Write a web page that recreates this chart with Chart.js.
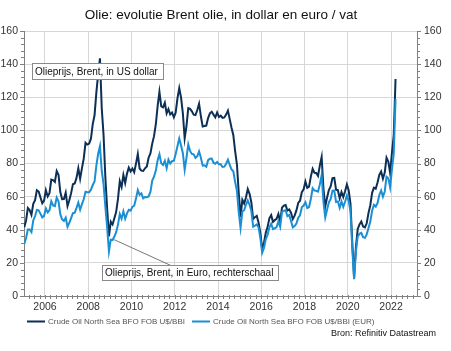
<!DOCTYPE html>
<html>
<head>
<meta charset="utf-8">
<script src="https://cdn.jsdelivr.net/npm/chart.js@4.4.0/dist/chart.umd.min.js"></script>
<style>
html,body{margin:0;padding:0;background:#fff;}
canvas{display:block;}
</style>
</head>
<body>
<canvas id="c" width="451" height="351" style="width:451px;height:351px"></canvas>
<script>
// Monthly values, Jan 2005 - Mar 2022
const startYear = 2005;
const usd = [
41.5,45.5,53.1,51.9,49.0,55.6,57.9,63.9,63.1,59.5,56.0,57.6,
63.9,60.1,62.1,70.3,70.0,68.9,75.5,73.2,62.8,58.4,58.5,62.4,
54.3,57.8,62.1,67.5,67.9,71.3,77.2,70.8,77.1,82.9,92.5,91.4,
92.0,95.0,103.8,109.1,122.8,134.0,143.5,113.2,97.2,71.6,52.5,36.0,
44.9,43.2,47.0,50.8,58.6,69.3,65.8,73.1,68.2,73.9,77.5,75.2,
76.9,74.7,79.9,85.7,77.0,75.7,75.5,77.1,78.2,83.5,86.1,92.0,
96.5,103.7,114.6,123.3,114.5,113.9,116.7,110.2,112.8,109.6,110.7,107.9,
110.7,119.3,125.5,119.8,110.3,95.2,102.6,113.4,113.0,111.5,109.5,109.2,
112.3,116.1,108.5,102.3,102.6,102.9,107.4,110.3,111.2,109.5,107.9,110.8,
108.1,108.9,107.5,107.8,109.5,111.9,106.8,101.6,97.1,87.4,79.4,62.3,
47.8,58.1,55.9,59.5,64.6,61.7,56.5,46.5,47.6,48.4,44.3,38.0,
28.5,32.2,38.2,41.6,46.9,48.8,44.8,45.8,46.6,49.5,45.0,53.3,
54.6,54.9,51.6,52.3,50.3,46.4,48.5,51.7,56.2,57.5,62.7,64.4,
69.1,65.3,66.0,72.1,76.8,74.4,74.3,72.5,78.9,84.0,64.8,54.0,
59.4,64.0,66.1,71.2,71.3,64.2,63.9,59.0,62.8,59.7,63.2,67.3,
63.7,55.7,32.0,11.0,29.4,40.3,43.2,45.0,41.9,41.4,43.9,50.2,
54.8,62.3,65.4,64.8,68.5,73.2,75.2,70.8,74.5,83.5,81.1,74.2,
86.5,97.1,131.0
];
const eur = [
31.5,35.0,40.2,40.2,38.6,45.6,48.3,52.0,51.7,49.6,47.5,48.4,
52.8,50.5,51.8,57.2,54.7,54.3,59.4,57.2,49.4,46.3,45.3,47.3,
41.8,44.1,47.0,50.0,50.3,53.2,56.4,52.1,55.5,58.4,62.9,62.6,
62.6,64.2,67.0,69.1,78.7,85.9,90.5,75.5,67.5,53.8,41.3,26.9,
34.0,33.8,35.9,38.5,43.1,49.5,46.7,51.1,46.7,49.9,52.0,51.5,
53.8,54.5,58.8,64.0,61.1,62.0,59.0,59.8,59.7,60.1,62.8,69.7,
72.0,75.7,81.9,85.6,80.1,79.1,81.6,77.1,82.3,80.0,81.4,81.7,
85.8,90.4,95.1,90.8,86.2,76.2,83.4,91.5,87.6,85.8,85.5,83.4,
84.4,87.3,83.5,78.7,78.9,78.0,82.0,82.9,83.0,80.5,79.9,80.9,
79.5,79.5,77.9,78.1,79.9,82.3,79.1,76.4,75.3,68.8,63.5,50.7,
41.2,51.0,51.8,55.1,57.7,55.1,51.4,41.9,42.5,43.2,41.4,34.9,
26.1,29.0,34.4,36.8,41.5,43.6,40.4,40.9,41.6,45.0,41.7,50.8,
51.5,51.8,48.2,48.9,45.3,41.4,42.2,43.8,47.2,48.7,53.6,54.6,
56.6,53.1,53.7,58.6,65.1,63.6,63.5,63.0,67.4,73.0,56.8,47.4,
52.1,56.6,58.5,63.6,63.7,56.8,57.1,53.2,57.1,53.8,56.9,60.6,
57.4,51.1,28.8,10.1,27.0,35.7,37.6,38.1,35.5,35.1,37.2,41.1,
44.9,51.5,55.0,54.0,56.1,61.0,63.7,60.0,63.1,72.0,71.1,65.7,
76.5,85.9,119.0
];
const yearTicks = [2006,2008,2010,2012,2014,2016,2018,2020,2022];
const seriesNames = ["Crude Oil North Sea BFO FOB U$/BBI", "Crude Oil North Sea BFO FOB U$/BBI (EUR)"];
const titleText = "Olie: evolutie Brent olie, in dollar en euro / vat";
const noteUsd = "Olieprijs, Brent, in US dollar";
const noteEur = "Olieprijs, Brent, in Euro, rechterschaal";
const sourceText = "Bron: Refinitiv Datastream";

const DARK = '#0c2f55';
const LIGHT = '#1b8fd4';
const FONT = '"Liberation Sans", Arial, sans-serif';

const toPts = arr => arr.map((v, i) => ({x: startYear + (i + 0.5) / 12, y: v}));

const overlay = {
  id: 'overlay',
  afterDraw(chart) {
    const ctx = chart.ctx;
    const a = chart.chartArea;
    const xs = chart.scales.x, ys = chart.scales.y, y2 = chart.scales.y2;
    ctx.save();
    // minor ticks
    ctx.strokeStyle = '#808080';
    ctx.lineWidth = 1;
    ctx.beginPath();
    for (let q = 2005.25; q <= 2023.2; q += 0.25) {
      const px = Math.round(xs.getPixelForValue(q)) + 0.5;
      if (px < a.left || px > a.right) continue;
      ctx.moveTo(px, a.bottom - 1); ctx.lineTo(px, a.bottom + 3);
    }
    for (let v = 0; v <= 160; v += 4) {
      const py = Math.round(ys.getPixelForValue(v)) + 0.5;
      const len = v % 20 === 0 ? 4 : 3;
      ctx.moveTo(a.left - len, py); ctx.lineTo(a.left, py);
      ctx.moveTo(a.right, py); ctx.lineTo(a.right + len, py);
    }
    ctx.stroke();

    // title
    ctx.fillStyle = '#111';
    ctx.font = '13.5px ' + FONT;
    ctx.textAlign = 'center';
    ctx.textBaseline = 'middle';
    ctx.fillText(titleText, 221, 15);

    // annotation boxes
    ctx.font = '10px ' + FONT;
    ctx.textAlign = 'left';
    const box = (x, y, w, h, t) => {
      ctx.fillStyle = '#fff';
      ctx.fillRect(x, y, w, h);
      ctx.strokeStyle = '#8a8a8a';
      ctx.strokeRect(x + 0.5, y + 0.5, w, h);
      ctx.fillStyle = '#111';
      ctx.fillText(t, x + 3, y + h / 2 + 1);
    };
    // leader line for euro note
    ctx.strokeStyle = '#777';
    ctx.beginPath();
    ctx.moveTo(xs.getPixelForValue(2009.2), y2.getPixelForValue(34));
    ctx.lineTo(172, 266);
    ctx.stroke();
    box(32, 63, 131, 16, noteUsd);
    box(102, 265, 176, 15, noteEur);

    // legend
    const ly = 321.5;
    ctx.lineWidth = 2;
    ctx.strokeStyle = DARK;
    ctx.beginPath(); ctx.moveTo(27, ly); ctx.lineTo(45, ly); ctx.stroke();
    ctx.strokeStyle = LIGHT;
    ctx.beginPath(); ctx.moveTo(192, ly); ctx.lineTo(210, ly); ctx.stroke();
    ctx.fillStyle = '#555';
    ctx.font = '8px ' + FONT;
    ctx.fillText(seriesNames[0], 48, ly);
    ctx.fillText(seriesNames[1], 213, ly);

    // source
    ctx.fillStyle = '#111';
    ctx.font = '9px ' + FONT;
    ctx.textAlign = 'right';
    ctx.fillText(sourceText, 436, 334);
    ctx.restore();
  }
};

new Chart(document.getElementById('c'), {
  type: 'line',
  data: {
    datasets: [
      {label: seriesNames[0], data: toPts(usd), borderColor: DARK, borderWidth: 2, pointRadius: 0, yAxisID: 'y', order: 1, tension: 0},
      {label: seriesNames[1], data: toPts(eur), borderColor: LIGHT, borderWidth: 2, pointRadius: 0, yAxisID: 'y2', order: 0, tension: 0}
    ]
  },
  options: {
    responsive: false,
    animation: false,
    layout: {padding: {left: 0, right: 0, top: 31, bottom: 35}},
    scales: {
      x: {
        type: 'linear', min: 2005.03, max: 2023.2,
        afterBuildTicks: s => { s.ticks = yearTicks.map(v => ({value: v})); },
        afterFit: s => { s.height = 20; },
        ticks: {autoSkip: false, maxRotation: 0, padding: 5, color: '#333', font: {family: FONT, size: 10.5}, callback: v => String(v)},
        grid: {color: '#d6d6d6', drawTicks: false},
        border: {color: '#808080'}
      },
      y: {
        position: 'left', min: 0, max: 160,
        afterFit: s => { s.width = 24; },
        ticks: {stepSize: 20, padding: 6, color: '#333', font: {family: FONT, size: 10.5}},
        grid: {color: '#d6d6d6', drawTicks: false},
        border: {color: '#808080'}
      },
      y2: {
        position: 'right', min: 0, max: 160,
        afterFit: s => { s.width = 34; },
        ticks: {stepSize: 20, padding: 7, color: '#333', font: {family: FONT, size: 10.5}},
        grid: {display: false, drawTicks: false},
        border: {color: '#808080'}
      }
    },
    plugins: {legend: {display: false}, tooltip: {enabled: false}, title: {display: false}}
  },
  plugins: [overlay]
});
</script>
</body>
</html>
